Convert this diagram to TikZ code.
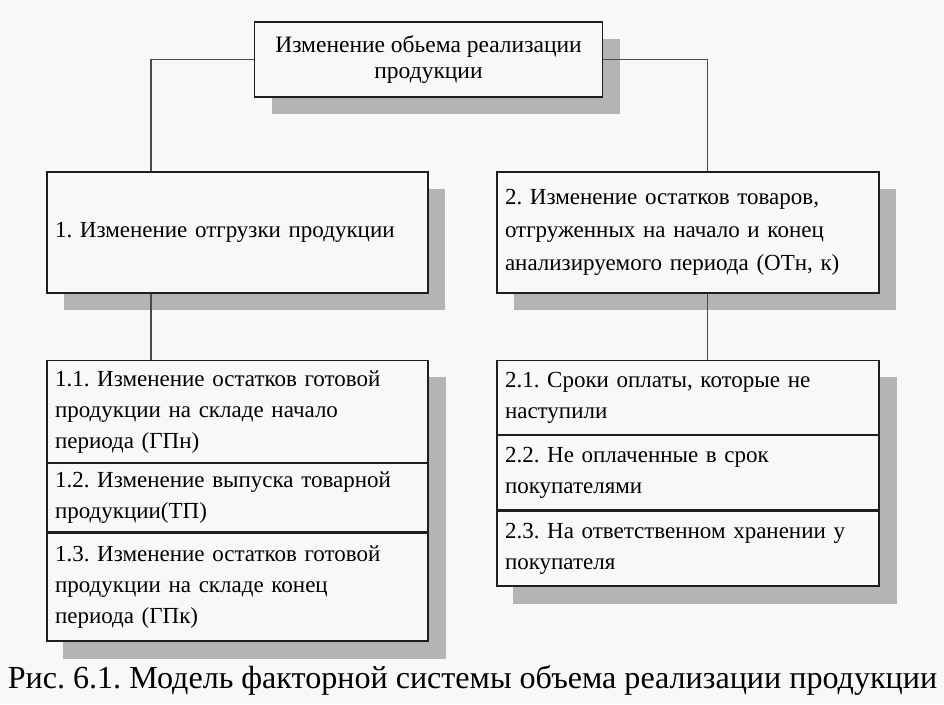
\documentclass[tikz,border=0pt]{standalone}
\usepackage{fontspec}
\setmainfont{Liberation Serif}
\usetikzlibrary{positioning,shadows,backgrounds}
\definecolor{shadowgray}{HTML}{B4B4B4}
\definecolor{framegray}{HTML}{1E1E1E}
\definecolor{linegray}{HTML}{4A4A4A}
\definecolor{papergray}{HTML}{F8F8F8}
\frenchspacing
\tikzset{
  factor/.style={draw=framegray, line width=1.2pt, fill=papergray, inner xsep=8pt,
    font=\fontsize{23}{31}\selectfont},
  boxshadow/.style={drop shadow={shadow xshift=17pt, shadow yshift=-17pt, fill=shadowgray, opacity=1}},
  leftfactor/.style={factor, align=left, text width=365pt},
  rightfactor/.style={factor, align=left, text width=366pt},
  conn/.style={draw=linegray, line width=1.4pt}
}
\begin{document}
\begin{tikzpicture}[x=1pt,y=-1pt]
    \useasboundingbox (0,0) rectangle (944,704);
    %% top box
    \node[factor, boxshadow, align=center, minimum width=348pt, minimum height=75pt,
          font=\fontsize{23.5}{26}\selectfont] (volume) at (428.5,59.5)
        {Изменение обьема реализации\\продукции};
    %% factors of the first level
    \node[leftfactor, boxshadow, minimum height=121pt] (shipment) at (237.5,232.5)
        {1. Изменение отгрузки продукции};
    \node[rightfactor, boxshadow, minimum height=121pt, font=\fontsize{23}{33}\selectfont] (balance) at (688,232.5)
        {2. Изменение остатков товаров,\\отгруженных на начало и конец\\анализируемого периода (ОТн, к)};
    %% factors 1.x
    \node[leftfactor, minimum height=102pt, anchor=north] (f11) at (237.5,360)
        {1.1. Изменение остатков готовой\\продукции на складе начало\\периода (ГПн)};
    \node[leftfactor, minimum height=68pt, below=0pt of f11] (f12)
        {1.2. Изменение выпуска товарной\\продукции(ТП)};
    \node[leftfactor, minimum height=108pt, below=0pt of f12] (f13)
        {1.3. Изменение остатков готовой\\продукции на складе конец\\периода (ГПк)};
    %% factors 2.x
    \node[rightfactor, minimum height=74pt, anchor=north] (f21) at (688,360)
        {2.1. Сроки оплаты, которые не\\наступили};
    \node[rightfactor, minimum height=74pt, below=0pt of f21] (f22)
        {2.2. Не оплаченные в срок\\покупателями};
    \node[rightfactor, minimum height=75pt, below=0pt of f22] (f23)
        {2.3. На ответственном хранении у\\покупателя};
    %% page and stack shadows
    \begin{scope}[on background layer]
        \fill[papergray] (0,0) rectangle (944,704);
        \fill[shadowgray] ([shift={(17pt,-17pt)}]f11.north west) rectangle ([shift={(17pt,-17pt)}]f13.south east);
        \fill[shadowgray] ([shift={(17pt,-17pt)}]f21.north west) rectangle ([shift={(17pt,-17pt)}]f23.south east);
    \end{scope}
    %% connectors
    \draw[conn] (volume.west) -| ([xshift=-86.5pt]shipment.north);
    \draw[conn] (volume.east) -| ([xshift=19.5pt]balance.north);
    \draw[conn] ([xshift=-86.5pt]shipment.south) -- ([xshift=-86.5pt]f11.north);
    \draw[conn] ([xshift=19.5pt]balance.south) -- ([xshift=19.5pt]f21.north);
    %% caption
    \node[anchor=base, font=\fontsize{32.1}{36}\selectfont, inner sep=0pt] (caption) at (472.5,688)
        {Рис. 6.1. Модель факторной системы объема реализации продукции};
\end{tikzpicture}
\end{document}
